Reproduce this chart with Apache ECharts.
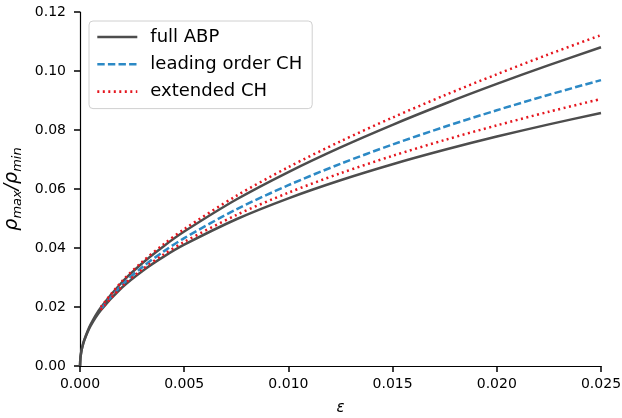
<!DOCTYPE html>
<html>
<head>
<meta charset="utf-8">
<script src="https://cdn.jsdelivr.net/npm/echarts@6/dist/echarts.min.js"></script>
<style>
html,body{margin:0;padding:0;background:#fff;}
#c{width:622px;height:418px;}
</style>
</head>
<body>
<div id="c"></div>
<script>
// x values (epsilon) for full ABP curves
var epsABP = [0, 0.00002, 0.00005, 0.0001, 0.0002, 0.0005, 0.001, 0.002, 0.003, 0.004, 0.005, 0.0075, 0.01, 0.0125, 0.015, 0.0175, 0.02, 0.0225, 0.025];
var abpUpper = [0, 0.00274, 0.00433, 0.00617, 0.00876, 0.01393, 0.01983, 0.02830, 0.03492, 0.04055, 0.04558, 0.05644, 0.06576, 0.07412, 0.08177, 0.08890, 0.09561, 0.10199, 0.10807];
var abpLower = [0, 0.00274, 0.00433, 0.00609, 0.00858, 0.01349, 0.01893, 0.02652, 0.03224, 0.03699, 0.04112, 0.04974, 0.05684, 0.06296, 0.06839, 0.07328, 0.07777, 0.08191, 0.08577];
// x values (epsilon) for CH curves
var epsCH = [0.001, 0.002, 0.003, 0.004, 0.005, 0.0075, 0.01, 0.0125, 0.015, 0.0175, 0.02, 0.0225, 0.025];
var leadCH = [0.01938, 0.02741, 0.03358, 0.03877, 0.04335, 0.05309, 0.06130, 0.06854, 0.07508, 0.08109, 0.08669, 0.09195, 0.09692];
var extUpper = [0.01999, 0.02863, 0.03541, 0.04121, 0.04640, 0.05767, 0.06740, 0.07617, 0.08423, 0.09177, 0.09889, 0.10568, 0.11217];
var extLower = [0.01912, 0.02690, 0.03281, 0.03775, 0.04207, 0.05117, 0.05874, 0.06534, 0.07124, 0.07661, 0.08157, 0.08619, 0.09052];
var seriesNames = ['full ABP', 'leading order CH', 'extended CH'];

function pairs(xs, ys) { return xs.map(function (x, i) { return [x, ys[i]]; }); }

var FONT = 'DejaVu Sans';
var cGray = '#4d4d4d', cBlue = '#2c89c5', cRed = '#e5161e';

function mk(name, xs, ys, color, type) {
  return {
    name: name, type: 'line', data: pairs(xs, ys),
    showSymbol: false, symbol: 'none', smooth: 0.3,
    lineStyle: { color: color, width: 2.5, type: type, cap: 'butt' },
    itemStyle: { color: color },
    emphasis: { disabled: true }, silent: true
  };
}

var chart = echarts.init(document.getElementById('c'), null, { renderer: 'canvas' });
chart.setOption({
  animation: false,
  backgroundColor: '#fff',
  grid: { left: 80, right: 21, top: 12, bottom: 52, containLabel: false, outerBoundsMode: 'none' },
  legend: {
    data: seriesNames.map(function (n) { return { name: n }; }),
    orient: 'vertical', left: 89, top: 21,
    padding: [7, 10, 8, 7],
    itemWidth: 40, itemHeight: 18, itemGap: 9.3,
    itemStyle: { opacity: 0 },
    lineStyle: { width: 2.6 },
    backgroundColor: 'rgba(255,255,255,0.8)',
    borderColor: '#d0d0d0', borderWidth: 1, borderRadius: 4,
    textStyle: { fontFamily: FONT, fontSize: 18, color: '#000', padding: [0, 0, 0, 8] },
    selectedMode: false
  },
  xAxis: {
    type: 'value', min: 0, max: 0.025, interval: 0.005,
    name: 'ε', nameLocation: 'middle', nameGap: 35,
    nameTextStyle: { fontFamily: FONT, fontSize: 15, fontStyle: 'italic', color: '#000' },
    axisLine: { show: true, onZero: false, lineStyle: { color: '#000', width: 1.2 } },
    axisTick: { show: true, inside: false, length: 6, lineStyle: { color: '#000', width: 1.5 } },
    axisLabel: { fontFamily: FONT, fontSize: 14, color: '#000', margin: 11, formatter: function (v) { return v.toFixed(3); } },
    splitLine: { show: false }
  },
  yAxis: {
    type: 'value', min: 0, max: 0.12, interval: 0.02,
    name: '{r|ρ}{s|max}{r|/ρ}{s|min}', nameLocation: 'middle', nameGap: 47, nameRotate: 90,
    nameTextStyle: {
      fontFamily: FONT, fontSize: 19, color: '#000',
      rich: {
        r: { fontFamily: FONT, fontSize: 19, fontStyle: 'italic', color: '#000', lineHeight: 24 },
        s: { fontFamily: FONT, fontSize: 13, fontStyle: 'italic', color: '#000', lineHeight: 24, verticalAlign: 'bottom', padding: [6, 0, 0, 0] }
      }
    },
    axisLine: { show: true, onZero: false, lineStyle: { color: '#000', width: 1.2 } },
    axisTick: { show: true, inside: false, length: 6, lineStyle: { color: '#000', width: 1.5 } },
    axisLabel: { fontFamily: FONT, fontSize: 14, color: '#000', margin: 14, formatter: function (v) { return v.toFixed(2); } },
    splitLine: { show: false }
  },
  series: [
    mk(seriesNames[0], epsABP, abpUpper, cGray, 'solid'),
    mk(seriesNames[0], epsABP, abpLower, cGray, 'solid'),
    mk(seriesNames[1], epsCH, leadCH, cBlue, [7.4, 3.2]),
    mk(seriesNames[2], epsCH, extUpper, cRed, [2, 3.5]),
    mk(seriesNames[2], epsCH, extLower, cRed, [2, 3.5])
  ]
});
</script>
</body>
</html>
